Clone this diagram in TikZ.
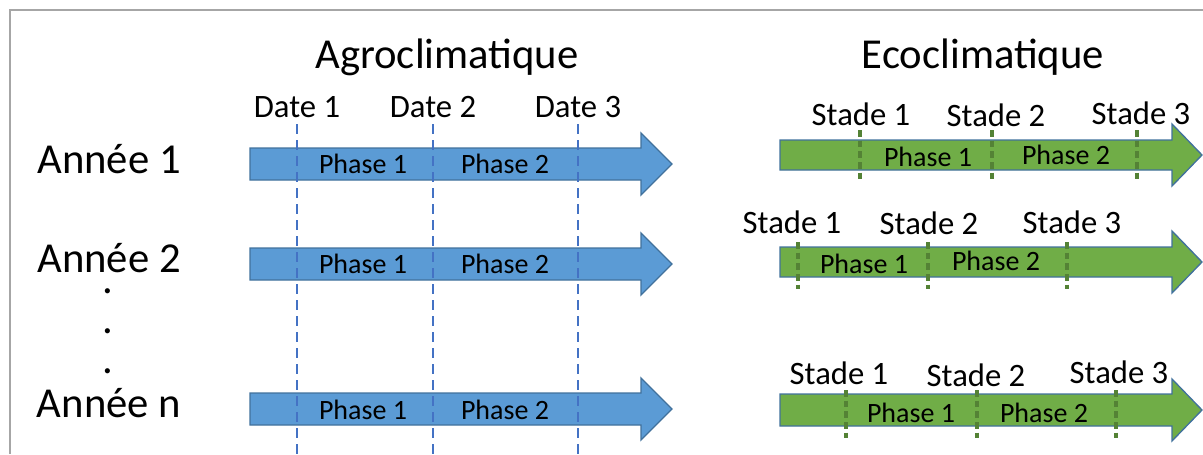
\documentclass[tikz,border=0pt]{standalone}
\usepackage{fontspec}
\setmainfont{Carlito}
\usetikzlibrary{arrows.meta, positioning}
\usepackage{xcolor}

\definecolor{bleu}{HTML}{5B9BD5}
\definecolor{bord}{HTML}{41719C}
\definecolor{vert}{HTML}{70AD47}
\definecolor{vertfonce}{HTML}{548235}
\definecolor{bleufonce}{HTML}{4472C4}
\definecolor{cadre}{HTML}{A6A6A6}

% fleche epaisse : x debut, x base de la tete, x pointe, y centre, demi-largeur, couleur
\newcommand{\fleche}[6]{%
  \draw[contour, fill=#6] (#1,#4-#5) -- (#2,#4-#5) -- (#2,#4-31) -- (#3,#4)
    -- (#2,#4+31) -- (#2,#4+#5) -- (#1,#4+#5) -- cycle;}

\tikzset{
  contour/.style={draw=bord, line width=1pt, line join=miter},
  grand/.style={font=\fontsize{32}{38}\selectfont, inner sep=0pt, anchor=base},
  moyen/.style={font=\fontsize{24.5}{29}\selectfont, inner sep=0pt, anchor=base},
  petit/.style={font=\fontsize{21}{25}\selectfont, inner sep=0pt, anchor=base},
  datetirets/.style={bleufonce, line width=2.2pt, dash pattern=on 7.5pt off 4.5pt},
  stadetirets/.style={vertfonce, line width=2.8pt, dash pattern=on 5pt off 3pt}
}

\begin{document}
\begin{tikzpicture}[x=0.75pt, y=-0.75pt]
\useasboundingbox (0,0) rectangle (1203,454);
\draw[cadre, line width=1.5pt] (10,454) -- (10,10) -- (1203,10);

% titres
\node[grand] (agro) at (447,68) {Agroclimatique};
\node[grand] (eco) at (983,68) {Ecoclimatique};

% annees
\node[grand] (annee1) at (109,173) {Année 1};
\node[grand] (annee2) at (109,272) {Année 2};
\node[grand] (anneen) at (109,417) {Année n};
\foreach \y [count=\i] in {293,333,373}
  \node[grand] (point\i) at (108,\y) {.};

% fleches bleues
\fleche{250}{641}{672}{164}{16}{bleu}
\fleche{250}{641}{672}{264}{16}{bleu}
\fleche{250}{641}{672}{409}{16}{bleu}

% dates
\foreach \x [count=\i] in {297,433,578} {
  \node[moyen] (date\i) at (\x,117) {Date \i};
  \draw[datetirets] (\x,124) -- (\x,454);
}

\foreach \y [count=\i] in {173,273,419} {
  \node[petit] (phaseA\i) at (363,\y) {Phase 1};
  \node[petit] (phaseB\i) at (505,\y) {Phase 2};
}

% fleches vertes
\fleche{780}{1172}{1202}{155}{15}{vert}
\fleche{780}{1172}{1202}{262}{15}{vert}
\fleche{780}{1172}{1202}{410}{16}{vert}

% stades, annee 1
\foreach \x in {860,992,1137}
  \draw[stadetirets] (\x,130) -- (\x,181);
\node[moyen] (stadeA1) at (861,125) {Stade 1};
\node[moyen] (stadeA2) at (996,126) {Stade 2};
\node[moyen] (stadeA3) at (1141,124) {Stade 3};
\node[petit] (phaseC1) at (928,166) {Phase 1};
\node[petit] (phaseD1) at (1066,164) {Phase 2};

% stades, annee 2
\foreach \x in {798,928,1067}
  \draw[stadetirets] (\x,242) -- (\x,289);
\node[moyen] (stadeB1) at (792,233) {Stade 1};
\node[moyen] (stadeB2) at (929,234) {Stade 2};
\node[moyen] (stadeB3) at (1072,233) {Stade 3};
\node[petit] (phaseC2) at (864,273) {Phase 1};
\node[petit] (phaseD2) at (996,270) {Phase 2};

% stades, annee n
\foreach \x in {846,977,1116}
  \draw[stadetirets] (\x,390) -- (\x,438);
\node[moyen] (stadeC1) at (839,384) {Stade 1};
\node[moyen] (stadeC2) at (976,386) {Stade 2};
\node[moyen] (stadeC3) at (1119,383) {Stade 3};
\node[petit] (phaseC3) at (911,422) {Phase 1};
\node[petit] (phaseD3) at (1044,422) {Phase 2};
\end{tikzpicture}
\end{document}
